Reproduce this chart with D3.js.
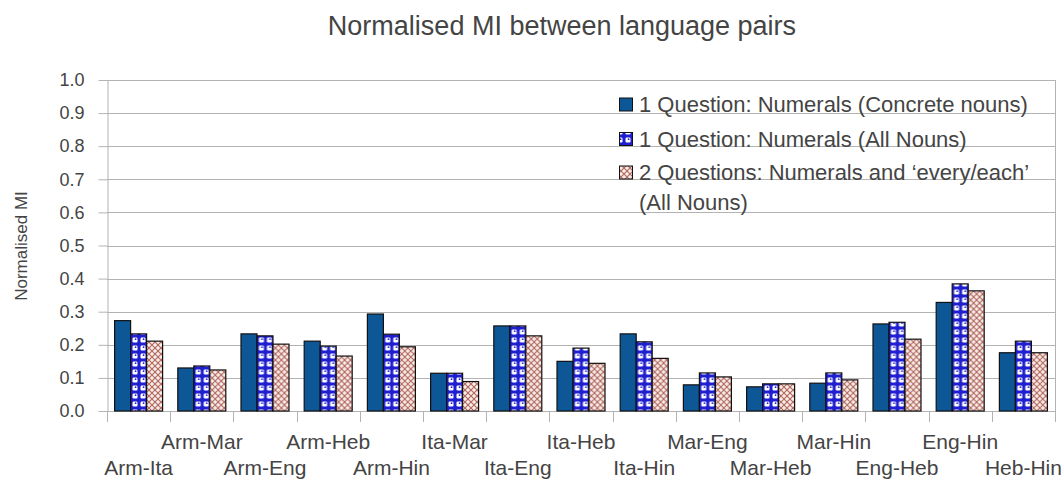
<!DOCTYPE html>
<html>
<head>
<meta charset="utf-8">
<script src="https://cdn.jsdelivr.net/npm/d3@7"></script>
<style>
  body { margin: 0; background: #fff; }
  text { font-family: "Liberation Sans", Arial, sans-serif; fill: #444; }
</style>
</head>
<body>
<div id="chart"></div>
<script>
// language pairs on the x axis
var categories = ["Arm-Ita", "Arm-Mar", "Arm-Eng", "Arm-Heb", "Arm-Hin", "Ita-Mar", "Ita-Eng",
  "Ita-Heb", "Ita-Hin", "Mar-Eng", "Mar-Heb", "Mar-Hin", "Eng-Heb", "Eng-Hin", "Heb-Hin"];

var seriesNames = ["1 Question: Numerals (Concrete nouns)",
  "1 Question: Numerals (All Nouns)",
  "2 Questions: Numerals and \u2018every/each\u2019 (All Nouns)"];

var concreteNouns = [0.273, 0.130, 0.233, 0.211, 0.293, 0.114, 0.257, 0.150, 0.233, 0.079, 0.073, 0.084, 0.263, 0.328, 0.176];
var allNouns      = [0.233, 0.136, 0.227, 0.196, 0.232, 0.114, 0.257, 0.190, 0.209, 0.115, 0.082, 0.115, 0.268, 0.384, 0.211];
var everyEach     = [0.211, 0.124, 0.202, 0.166, 0.194, 0.089, 0.227, 0.144, 0.159, 0.103, 0.082, 0.094, 0.217, 0.363, 0.176];

var yTicks = [0, 0.1, 0.2, 0.3, 0.4, 0.5, 0.6, 0.7, 0.8, 0.9, 1.0];

var width = 1064, height = 479;
var margin = { top: 80, right: 9, bottom: 68, left: 107 };
var gridColor = "#b3b3b3";

var svg = d3.select("#chart").append("svg")
  .attr("width", width)
  .attr("height", height);

svg.append("rect").attr("width", width).attr("height", height).attr("fill", "#fff");

// fill patterns for series 2 and 3
var defs = svg.append("defs");

var p2 = defs.append("pattern")
  .attr("id", "pat2")
  .attr("patternUnits", "userSpaceOnUse")
  .attr("width", 8).attr("height", 8);
p2.append("rect").attr("width", 8).attr("height", 8).attr("fill", "#1f1fd0");
p2.append("rect").attr("x", 1.5).attr("y", 1.5).attr("width", 5).attr("height", 5).attr("rx", 1.2).attr("fill", "#fff");
p2.append("circle").attr("cx", 4.6).attr("cy", 3.2).attr("r", 0.9).attr("fill", "#1f1fd0");

var p3 = defs.append("pattern")
  .attr("id", "pat3")
  .attr("patternUnits", "userSpaceOnUse")
  .attr("width", 6).attr("height", 6);
p3.append("rect").attr("width", 6).attr("height", 6).attr("fill", "#f7ece8");
p3.append("path").attr("d", "M0,0L6,6M6,0L0,6").attr("stroke", "#b1665d").attr("stroke-width", 1.1);

var fills = ["#0e5797", "url(#pat2)", "url(#pat3)"];

var data = categories.map(function(c, i) {
  return { name: c, values: [concreteNouns[i], allNouns[i], everyEach[i]] };
});

var x = d3.scaleBand()
  .domain(categories)
  .range([margin.left, width - margin.right]);

var xSub = d3.scaleBand()
  .domain([0, 1, 2])
  .range([0, x.bandwidth()])
  .paddingOuter(0.475);

var y = d3.scaleLinear()
  .domain([0, 1])
  .range([height - margin.bottom, margin.top]);

// title
svg.append("text")
  .attr("x", 562)
  .attr("y", 35)
  .attr("text-anchor", "middle")
  .style("font-size", "27px")
  .text("Normalised MI between language pairs");

// gridlines
svg.append("g")
  .selectAll("line")
  .data(yTicks)
  .enter().append("line")
  .attr("x1", margin.left)
  .attr("x2", width - margin.right)
  .attr("y1", function(d) { return Math.round(y(d)) + 0.5; })
  .attr("y2", function(d) { return Math.round(y(d)) + 0.5; })
  .attr("stroke", gridColor);

// right border of plot area
svg.append("line")
  .attr("x1", width - margin.right + 0.5).attr("x2", width - margin.right + 0.5)
  .attr("y1", y(1)).attr("y2", y(0))
  .attr("stroke", gridColor);

// y axis
var yAxis = svg.append("g")
  .attr("transform", "translate(" + (margin.left + 0.5) + ",0)")
  .call(d3.axisLeft(y).tickValues(yTicks).tickFormat(d3.format(".1f")).tickSize(9).tickSizeOuter(0).tickPadding(14));
yAxis.selectAll("path, line").attr("stroke", gridColor);
yAxis.selectAll("text").style("font-size", "18px").attr("fill", "#444").style("font-family", "Liberation Sans, Arial, sans-serif");

// x axis with boundary ticks
var xAxisG = svg.append("g");
xAxisG.append("line")
  .attr("x1", margin.left).attr("x2", width - margin.right)
  .attr("y1", y(0) + 0.5).attr("y2", y(0) + 0.5)
  .attr("stroke", gridColor);
var bounds = categories.map(function(c) { return x(c); }).concat([width - margin.right]);
xAxisG.selectAll(".xtick")
  .data(bounds)
  .enter().append("line")
  .attr("class", "xtick")
  .attr("x1", function(d) { return Math.round(d) + 0.5; })
  .attr("x2", function(d) { return Math.round(d) + 0.5; })
  .attr("y1", y(0))
  .attr("y2", y(0) + 11)
  .attr("stroke", gridColor);

xAxisG.selectAll(".xlabel")
  .data(categories)
  .enter().append("text")
  .attr("class", "xlabel")
  .attr("x", function(d) { return x(d) + x.bandwidth() / 2; })
  .attr("y", function(d, i) { return i % 2 == 0 ? 475 : 449; })
  .attr("text-anchor", "middle")
  .style("font-size", "21px")
  .text(function(d) { return d; });

// y axis title
svg.append("text")
  .attr("transform", "translate(27,246) rotate(-90)")
  .attr("text-anchor", "middle")
  .style("font-size", "17px")
  .text("Normalised MI");

// bars
var groups = svg.selectAll(".group")
  .data(data)
  .enter().append("g")
  .attr("class", "group")
  .attr("transform", function(d) { return "translate(" + x(d.name) + ",0)"; });

groups.selectAll("rect")
  .data(function(d) { return d.values; })
  .enter().append("rect")
  .attr("x", function(d, i) { return xSub(i); })
  .attr("y", function(d) { return y(d); })
  .attr("width", xSub.bandwidth())
  .attr("height", function(d) { return y(0) - y(d); })
  .attr("fill", function(d, i) { return fills[i]; })
  .attr("stroke", "#111")
  .attr("stroke-width", 1.2);

// legend
var legendRows = [
  { lines: ["1 Question: Numerals (Concrete nouns)"], cy: 104.5 },
  { lines: ["1 Question: Numerals (All Nouns)"], cy: 139 },
  { lines: ["2 Questions: Numerals and \u2018every/each\u2019", "(All Nouns)"], cy: 172.5 }
];

var legend = svg.append("g").attr("class", "legend");
legendRows.forEach(function(r, i) {
  legend.append("rect")
    .attr("x", 619.5)
    .attr("y", r.cy - 6.5)
    .attr("width", 13)
    .attr("height", 13)
    .attr("fill", fills[i])
    .attr("stroke", "#111");
  r.lines.forEach(function(t, j) {
    legend.append("text")
      .attr("x", 639)
      .attr("y", r.cy + 7.5 + j * 30)
      .style("font-size", "22px")
      .text(t);
  });
});
</script>
</body>
</html>
